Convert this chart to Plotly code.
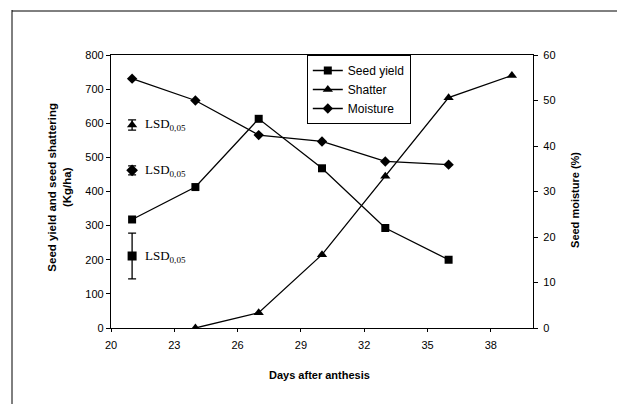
import plotly.graph_objects as go

days = [21, 24, 27, 30, 33, 36]
seed_yield = [318, 413, 613, 468, 293, 200]
shatter_days = [24, 27, 30, 33, 36, 39]
shatter = [0, 45, 215, 445, 675, 740]
moisture = [54.8, 50.0, 42.4, 41.0, 36.6, 35.9]

lsd_x = [21, 21, 21]
lsd_center = [211, 595, 462]
lsd_half = [67, 15, 13]
lsd_symbols = ["square", "triangle-up", "diamond"]

x_ticks = [20, 23, 26, 29, 32, 35, 38]

fig = go.Figure()
fig.add_trace(go.Scatter(x=days, y=seed_yield, name="Seed yield", mode="lines+markers",
                         line=dict(color="black", width=1.3),
                         marker=dict(symbol="square", size=8, color="black")))
fig.add_trace(go.Scatter(x=shatter_days, y=shatter, name="Shatter", mode="lines+markers",
                         line=dict(color="black", width=1.3),
                         marker=dict(symbol="triangle-up", size=9, color="black")))
fig.add_trace(go.Scatter(x=days, y=moisture, name="Moisture", mode="lines+markers", yaxis="y2",
                         line=dict(color="black", width=1.3),
                         marker=dict(symbol="diamond", size=8, color="black")))

for xv, c, h, s in zip(lsd_x, lsd_center, lsd_half, lsd_symbols):
    fig.add_trace(go.Scatter(x=[xv], y=[c], mode="markers", showlegend=False,
                             marker=dict(symbol=s, size=9, color="black"),
                             error_y=dict(type="constant", value=h, color="black",
                                          thickness=1.3, width=4)))
    fig.add_annotation(x=21.5, y=c, xref="x", yref="y", xanchor="left", yanchor="middle",
                       text="LSD<sub>0,05</sub>", showarrow=False,
                       font=dict(family="Liberation Serif", size=13, color="black"))

fig.update_layout(
    template="none",
    width=617, height=404,
    margin=dict(l=111, r=84, t=55, b=76, autoexpand=False),
    paper_bgcolor="white", plot_bgcolor="white",
    font=dict(family="Liberation Sans", size=11, color="black"),
    xaxis=dict(range=[20, 40], tickvals=x_ticks, showline=True, linecolor="black", linewidth=1.3,
               mirror=True, ticks="outside", ticklen=3, tickcolor="black", showgrid=False,
               zeroline=False, tickfont=dict(size=11), automargin=False, ticklabelstandoff=4),
    yaxis=dict(range=[0, 800], dtick=100, showline=True, linecolor="black", linewidth=1.3,
               ticks="outside", ticklen=4, tickcolor="black", showgrid=False, zeroline=False,
               tickfont=dict(size=11), automargin=False),
    yaxis2=dict(range=[0, 60], dtick=10, overlaying="y", side="right", showline=True,
                linecolor="black", linewidth=1.3, ticks="outside", ticklen=4, tickcolor="black",
                showgrid=False, zeroline=False, tickfont=dict(size=11), automargin=False,
                ticklabelstandoff=3),
    legend=dict(x=0.464, y=1.0, xanchor="left", yanchor="top", bordercolor="black", borderwidth=1,
                bgcolor="white", font=dict(size=12), tracegroupgap=0, itemwidth=30),
    showlegend=True,
)

fig.add_annotation(text="<b>Seed yield and seed shattering<br>(Kg/ha)</b>", xref="paper", yref="paper",
                   x=-0.122, y=0.516, textangle=-90, showarrow=False, font=dict(size=11.5),
                   xanchor="center", yanchor="middle")
fig.add_annotation(text="<b>Seed moisture (%)</b>", xref="paper", yref="paper",
                   x=1.0995, y=0.469, textangle=-90, showarrow=False, font=dict(size=11),
                   xanchor="center", yanchor="middle")
fig.add_annotation(text="<b>Days after anthesis</b>", xref="paper", yref="paper",
                   x=0.495, y=-0.172, showarrow=False, font=dict(size=11),
                   xanchor="center", yanchor="middle")

# partial outer frame of the scanned page
fig.add_shape(type="line", xref="paper", yref="paper", x0=(12-111)/422, x1=(12-111)/422,
              y0=(328-10)/273, y1=(328-404)/273, line=dict(color="black", width=1))
fig.add_shape(type="line", xref="paper", yref="paper", x0=(12-111)/422, x1=(617-111)/422,
              y0=(328-11)/273, y1=(328-11)/273, line=dict(color="black", width=1))

fig.write_html("out.html", config={"displayModeBar": False},
               post_script="document.body.style.margin='0';document.body.style.overflow='hidden';")
